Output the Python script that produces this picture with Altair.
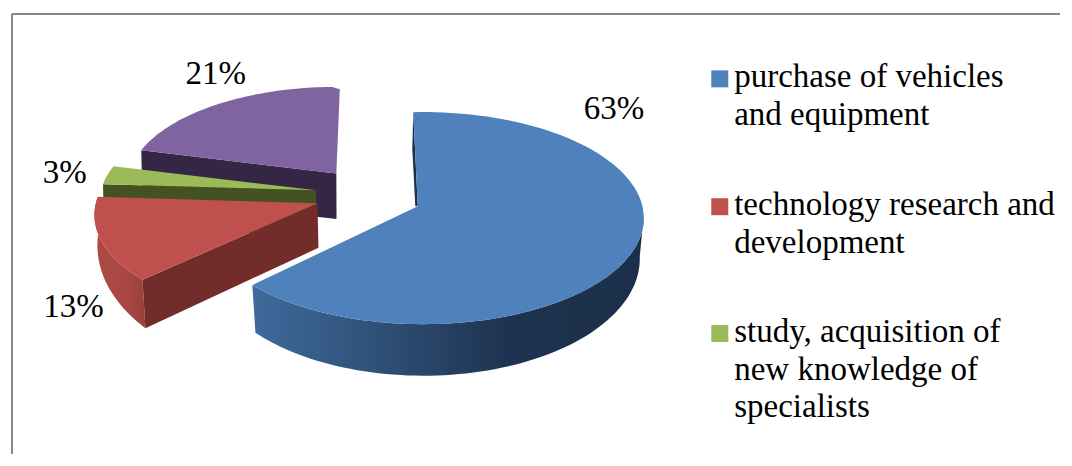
import math
import altair as alt
import pandas as pd

# ---- values ----
categories = ["purchase of vehicles and equipment", "technology research and development",
              "study, acquisition of new knowledge of specialists", "other"]
shares = [63, 13, 3, 21]
share_labels = ["63%", "13%", "3%", "21%"]
legend_lines = [["purchase of vehicles", "and equipment"],
                ["technology research and", "development"],
                ["study, acquisition of", "new knowledge of", "specialists"]]
top_colors = ["#4f81bd", "#c0504d", "#9bbb59", "#8064a2"]
swatch_colors = ["#4f81bd", "#c0504d", "#9bbb59"]

FONT = "Liberation Serif"
X_SCALE = alt.Scale(domain=[8, 1064], nice=False, zero=False, padding=0)
Y_SCALE = alt.Scale(domain=[458, 8], nice=False, zero=False, padding=0)
cum = [0]
for s in shares:
    cum.append(cum[-1] + s)
ang = [c * 3.6 for c in cum]  # clockwise degrees from the top


def persp(a, apex, R):
    t = math.radians(a)
    u, v = math.sin(t), math.cos(t)
    den = 1 + 0.112 * v
    return apex[0] + 226.5 * R * u / den, apex[1] - 105.65 * R * v / den


def steps(a0, a1, n=60):
    return [a0 + (a1 - a0) * i / n for i in range(n + 1)]


def blue_phi(a):
    return math.radians(-2.6 + a * 233.4 / 226.8)


def blue_top(a):
    p = blue_phi(a)
    return 423 + 222 * math.sin(p), 220 - 107 * math.cos(p)


def blue_low(a):
    p = blue_phi(a)
    return 423 + 218 * math.sin(p), 261 - 118 * math.cos(p)


def enc(chart):
    return chart.encode(
        x=alt.X("x:Q", scale=X_SCALE, axis=None),
        y=alt.Y("y:Q", scale=Y_SCALE, axis=None),
    )


def poly(points, **mark):
    df = pd.DataFrame({"x": [p[0] for p in points], "y": [p[1] for p in points],
                       "i": list(range(len(points)))})
    return enc(alt.Chart(df).mark_line(interpolate="linear-closed", strokeWidth=0, **mark)).encode(order="i:Q")


def grad(stops):
    return alt.LinearGradient(gradient="linear", x1=0, x2=1, y1=0, y2=0,
                              stops=[alt.GradientStop(offset=o, color=c) for o, c in stops])


layers = []

# frame
for f in (pd.DataFrame({"x": [9, 9], "y": [14, 458], "i": [0, 1]}),
          pd.DataFrame({"x": [9, 1064], "y": [14, 14], "i": [0, 1]})):
    layers.append(enc(alt.Chart(f).mark_line(color="#888888", strokeWidth=2)).encode(order="i:Q"))

# purple slice
p_apex = (335.5, 175)
p_pts = [persp(a, p_apex, 0.92) for a in steps(ang[3], ang[4])]
p_pts[-1] = (339, 90)
layers.append(poly([p_pts[0], p_apex, (335.7, 221), (p_pts[0][0] + 1, 198)], fill="#342644"))
layers.append(poly([p_apex] + p_pts, fill=top_colors[3]))

# green slice
g_apex = (315, 192)
g_pts = [persp(a, g_apex, 0.955) for a in steps(ang[2], ang[3], 10)]
layers.append(poly([g_pts[0], g_apex, (315, 237), (g_pts[0][0] + 1, 231)], fill="#435220"))
layers.append(poly([g_apex] + g_pts, fill=top_colors[2]))

# red slice
r_apex = (316.5, 205)
r_pts = [persp(a, r_apex, 0.985) for a in steps(ang[1], ang[2])]
r_low = [(x + 3, y + 27 + 32 * max(0, -math.cos(math.radians(a))))
         for (x, y), a in zip(r_pts, steps(ang[1], ang[2]))]
layers.append(poly(r_pts + r_low[::-1],
                   fill=grad([(0, "#ad4a46"), (0.6, "#a84743"), (1, "#9c3f3c")])))
layers.append(poly([r_pts[0], r_apex, (317.5, 250), r_low[0]], fill="#722d2b"))
layers.append(poly([r_apex] + r_pts, fill=top_colors[1]))

# blue slice
b_apex = (417.5, 208)
b_as = steps(ang[0], ang[1], 120)
b_vis = [a for a in b_as if a >= 88]
layers.append(poly([blue_top(a) for a in b_vis] + [blue_low(a) for a in b_vis[::-1]],
                   fill=grad([(0, "#3f6a9b"), (0.3, "#30527a"), (0.65, "#1e3350"), (1, "#1c2f4a")])))
layers.append(poly([blue_top(0), b_apex, (415, 208), (412, 150)], fill="#1c2f4a"))
layers.append(poly([b_apex] + [blue_top(a) for a in b_as], fill=top_colors[0]))

# share labels
label_df = pd.DataFrame({"t": share_labels, "x": [615, 71, 62, 214], "y": [110, 310, 174, 75]})
layers.append(enc(alt.Chart(label_df).mark_text(font=FONT, fontSize=33, color="black")).encode(text="t:N"))

# legend
rows, sw = [], []
tops = [88, 217, 345]
for k, lines in enumerate(legend_lines):
    sw.append({"c": categories[k], "x": 721.5, "y": tops[k] - 8.5})
    for j, line in enumerate(lines):
        rows.append({"t": line, "x": 736, "y": tops[k] + j * 38})
layers.append(enc(alt.Chart(pd.DataFrame(sw)).mark_square(size=289, opacity=1, filled=True)).encode(
    color=alt.Color("c:N", scale=alt.Scale(domain=categories[:3], range=swatch_colors), legend=None)))
layers.append(enc(alt.Chart(pd.DataFrame(rows)).mark_text(
    font=FONT, fontSize=33, color="black", align="left", baseline="alphabetic")).encode(text="t:N"))

chart = alt.layer(*layers).properties(
    width=1056, height=450, padding=0, background="white",
    autosize=alt.AutoSizeParams(type="fit", contains="padding"),
).configure_view(stroke=None)
chart.save("out.html", embed_options={"renderer": "svg", "actions": False})
